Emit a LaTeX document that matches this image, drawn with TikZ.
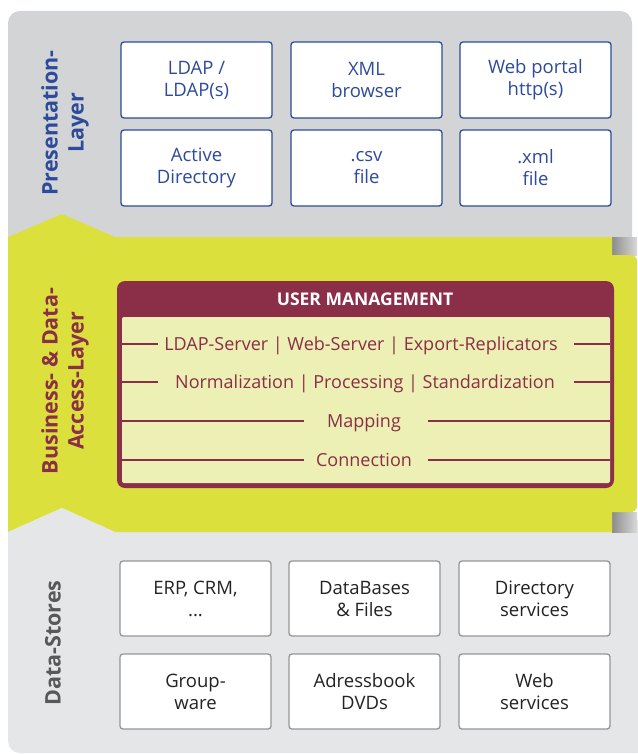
\documentclass[tikz,border=0pt]{standalone}
\usepackage{fontspec}
\setmainfont{Open Sans}

\definecolor{panelTop}{RGB}{211,212,214}
\definecolor{panelBot}{RGB}{229,230,231}
\definecolor{lime}{RGB}{220,224,60}
\definecolor{ink}{RGB}{46,75,155}
\definecolor{wine}{RGB}{139,46,71}
\definecolor{cream}{RGB}{237,240,180}
\definecolor{storeline}{RGB}{150,150,152}
\definecolor{storeink}{RGB}{35,35,35}
\definecolor{storelabel}{RGB}{88,88,90}

\tikzset{
  presbox/.style={draw=ink, line width=1.3pt, fill=white, rounded corners=3pt,
    minimum width=151pt, minimum height=76pt, inner sep=0pt, align=center,
    text=ink, font=\fontsize{18.5}{22}\selectfont},
  storebox/.style={draw=storeline, line width=1.3pt, fill=white, rounded corners=3pt,
    minimum width=151pt, minimum height=75pt, inner sep=0pt, align=center,
    text=storeink, font=\fontsize{18.5}{22}\selectfont},
  layerlabel/.style={rotate=90, align=center, inner sep=0pt,
    font=\bfseries\fontsize{21.5}{26}\selectfont},
  tierrow/.style={text=wine, inner sep=0pt, anchor=base,
    font=\fontsize{18}{20}\selectfont},
  rule/.style={draw=wine, line width=1.4pt}
}

\begin{document}
\begin{tikzpicture}[x=1pt, y=-1pt]
  \useasboundingbox (0,0) rectangle (637,754);
  \fill[white] (0,0) rectangle (637,754);

  % three layer panels
  \fill[panelTop, rounded corners=12pt] (8,11) rectangle (632,250);
  \fill[panelBot, rounded corners=12pt] (8,520) rectangle (650,753);
  \shade[left color=gray!90, right color=gray!30] (612,237) rectangle (637,255);
  \shade[left color=gray!90, right color=gray!30] (612,512) rectangle (637,532);
  \fill[lime] (8,237) -- (62,214) -- (115,237) -- (612,237) -- (612,512)
    -- (612,532) -- (115,532) -- (62,508) -- (8,532) -- cycle;
  \fill[lime, rounded corners=6pt] (600,255) rectangle (637,512);
  \fill[panelBot] (8,532) -- (62,508) -- (115,532) -- cycle;

  % layer titles
  \node[layerlabel, text=ink] (lpres) at (65,123) {Presentation-\\Layer};
  \node[layerlabel, text=wine] (lbiz) at (65,381) {Business- \& Data-\\Access-Layer};
  \node[layerlabel, text=storelabel] (lstore) at (53,643) {Data-Stores};

  % presentation layer
  \node[presbox] (ldap) at (196.5,80)  {LDAP /\\LDAP(s)};
  \node[presbox] (xmlb) at (366.5,80)  {XML\\browser};
  \node[presbox] (web)  at (535.5,80)  {Web portal\\http(s)};
  \node[presbox] (ad)   at (196.5,168) {Active\\Directory};
  \node[presbox] (csv)  at (366.5,168) {.csv\\file};
  \node[presbox] (xmlf) at (535.5,168) {.xml\\file};

  % user management block
  \fill[wine, rounded corners=8pt] (117,281) rectangle (614,488);
  \fill[cream, rounded corners=2pt] (122,317) rectangle (610,483);
  \node[text=white, font=\bfseries\fontsize{17.5}{20}\selectfont] (um) at (365,299) {USER MANAGEMENT};

  \node[tierrow] (t1) at (361,350.5) {LDAP-Server | Web-Server | Export-Replicators};
  \node[tierrow] (t2) at (365,388.5) {Normalization | Processing | Standardization};
  \node[tierrow] (t3) at (364,427.5) {Mapping};
  \node[tierrow] (t4) at (364,466.5) {Connection};

  \draw[rule] (122,344) -- (158,344);  \draw[rule] (574,344) -- (610,344);
  \draw[rule] (122,382) -- (158,382);  \draw[rule] (574,382) -- (610,382);
  \draw[rule] (122,421) -- (304,421);  \draw[rule] (428,421) -- (610,421);
  \draw[rule] (122,460) -- (304,460);  \draw[rule] (428,460) -- (610,460);

  % data stores
  \node[storebox] (erp)  at (195.5,598.5) {ERP, CRM,\\...};
  \node[storebox] (dbf)  at (364.5,598.5) {DataBases\\\& Files};
  \node[storebox] (dir)  at (534.5,598.5) {Directory\\services};
  \node[storebox] (grp)  at (195.5,691.5) {Group-\\ware};
  \node[storebox] (adr)  at (364.5,691.5) {Adressbook\\DVDs};
  \node[storebox] (wsv)  at (534.5,691.5) {Web\\services};
\end{tikzpicture}
\end{document}
